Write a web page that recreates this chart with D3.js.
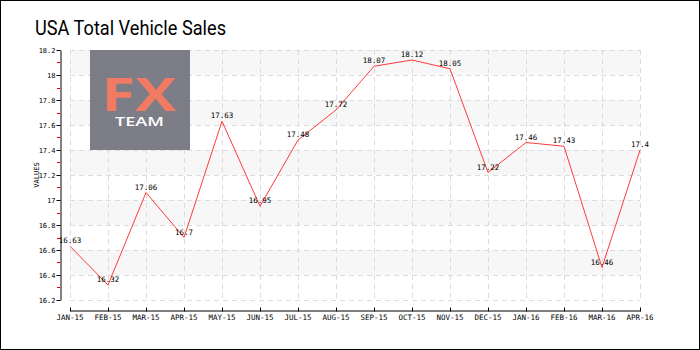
<!DOCTYPE html>
<html><head><meta charset="utf-8">
<script src="https://cdn.jsdelivr.net/npm/d3@7"></script>
<style>body{margin:0;background:#fff}svg{display:block}</style>
</head><body>
<svg id="c" width="700" height="350"></svg>
<script>
const months = ["JAN-15","FEB-15","MAR-15","APR-15","MAY-15","JUN-15","JUL-15","AUG-15","SEP-15","OCT-15","NOV-15","DEC-15","JAN-16","FEB-16","MAR-16","APR-16"];
const sales = [16.63,16.32,17.06,16.7,17.63,16.95,17.48,17.72,18.07,18.12,18.05,17.22,17.46,17.43,16.46,17.4];
const yTicks = [16.2,16.4,16.6,16.8,17,17.2,17.4,17.6,17.8,18,18.2];
const yMinor = [16.3,16.5,16.7,16.9,17.1,17.3,17.5,17.7,17.9,18.1];
const title = "USA Total Vehicle Sales";
const yTitle = "VALUES";

const svg = d3.select("#c");
const font = "'DejaVu Sans Mono', monospace";
svg.append("rect").attr("x",0.5).attr("y",0.5).attr("width",699).attr("height",349)
  .attr("fill","#fff").attr("stroke","#000").attr("stroke-width",1);

const x = d3.scalePoint().domain(months).range([70,640]);
const y = d3.scaleLinear().domain([16.2,18.2]).range([300,50]);

// bands
const bands = [];
for (let i=0;i<yTicks.length-1;i++) if ((yTicks.length-2-i)%2===0) bands.push([yTicks[i],yTicks[i+1]]);
svg.append("g").selectAll("rect").data(bands).join("rect")
  .attr("x",70).attr("width",570)
  .attr("y",d=>y(d[1])).attr("height",d=>y(d[0])-y(d[1]))
  .attr("fill","#f7f7f7");

// grid
const grid = svg.append("g").attr("stroke","#dcdcdc").attr("stroke-dasharray","5,4").attr("stroke-width",1);
grid.selectAll(".h").data(yTicks).join("line")
  .attr("x1",70).attr("x2",640).attr("y1",d=>Math.round(y(d))+0.5).attr("y2",d=>Math.round(y(d))+0.5);
grid.selectAll(".v").data(months).join("line")
  .attr("y1",50).attr("y2",300).attr("x1",d=>Math.round(x(d))+0.5).attr("x2",d=>Math.round(x(d))+0.5);

// logo
const logo = svg.append("g");
logo.append("rect").attr("x",90).attr("y",50).attr("width",100).attr("height",100).attr("fill","#787882").attr("fill-opacity",0.96);
logo.append("text").attr("x",101.5).attr("y",110.5)
  .attr("font-family","'Open Sans', sans-serif").attr("font-size",47).attr("font-weight",700)
  .attr("textLength",75).attr("lengthAdjust","spacingAndGlyphs")
  .attr("fill","#f07a62").text("FX");
logo.append("text").attr("x",115).attr("y",126)
  .attr("font-family","'Open Sans', sans-serif").attr("font-size",12.5).attr("font-weight",600)
  .attr("textLength",49).attr("lengthAdjust","spacingAndGlyphs").attr("fill","#fff").text("TEAM");

// y axis
const yAxis = svg.append("g").attr("transform","translate(60.5,0)")
  .call(d3.axisLeft(y).tickValues(yTicks).tickSize(4).tickSizeOuter(0).tickFormat(d3.format("~g")));
yAxis.select(".domain").attr("stroke","#000");
yAxis.selectAll("text").attr("font-family",font).attr("font-size",7).attr("fill","#000").attr("x",-5);
yAxis.selectAll(".tick line").attr("stroke","#000");
svg.append("g").selectAll("line").data(yMinor).join("line")
  .attr("x1",57).attr("x2",60).attr("y1",d=>Math.round(y(d))+0.5).attr("y2",d=>Math.round(y(d))+0.5)
  .attr("stroke","#e00000");

svg.append("text").attr("transform","translate(39,175) rotate(-90)").attr("text-anchor","middle")
  .attr("font-family",font).attr("font-size",7).attr("fill","#000").text(yTitle);

// x axis
const xAxis = svg.append("g").attr("transform","translate(0,310.5)")
  .call(d3.axisTop(x).tickSize(3).tickSizeOuter(0).tickFormat(""));
xAxis.select(".domain").attr("stroke","#000");
xAxis.selectAll(".tick line").attr("stroke","#000").attr("y2",-3).attr("y1",1);
svg.append("g").selectAll("text").data(months).join("text")
  .attr("x",d=>x(d)).attr("y",320).attr("text-anchor","middle")
  .attr("font-family",font).attr("font-size",7.5).attr("fill","#000").text(d=>d);

// line
const line = d3.line().x((d,i)=>x(months[i])).y(d=>y(d));
svg.append("path").datum(sales).attr("d",line).attr("fill","none").attr("stroke","#ff3b3b").attr("stroke-width",1);

svg.append("g").selectAll("text").data(sales).join("text")
  .attr("x",(d,i)=>x(months[i])).attr("y",d=>y(d)-3).attr("text-anchor","middle")
  .attr("font-family",font).attr("font-size",7.5).attr("fill","#000").text(d=>d3.format("~g")(d));

svg.append("text").attr("x",35).attr("y",35).attr("font-family","Roboto, sans-serif")
  .attr("font-size",20).attr("font-weight",400).attr("fill","#000")
  .attr("textLength",191).attr("lengthAdjust","spacingAndGlyphs").text(title);
</script>
</body></html>
